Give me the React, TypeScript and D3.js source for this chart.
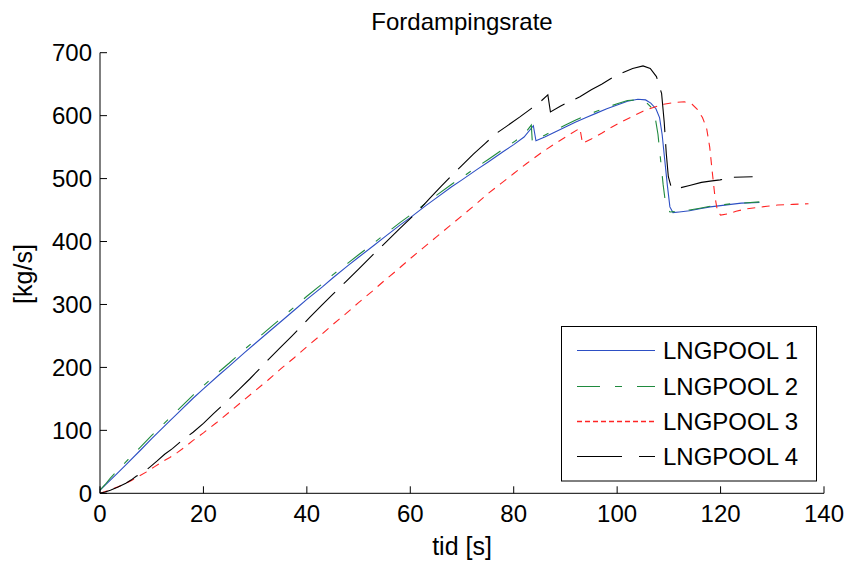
import React, { useEffect, useRef } from 'react';
import * as d3 from 'd3';

// LNGPOOL 1 (blue, solid) : [tid s, kg/s]
const pool1 = [
  [0, 5], [1, 13], [2, 21], [3, 29], [5, 45], [8, 70], [10, 87], [13, 111], [15, 127], [18, 151],
  [20, 166], [23, 188], [25, 202], [28, 224], [30, 238], [33, 259], [35, 273], [38, 294], [40, 308],
  [43, 328], [45, 342], [48, 362], [50, 375], [53, 394], [55, 407], [58, 426], [60, 438], [63, 457],
  [65, 469], [68, 487], [70, 498], [73, 515], [75, 526], [78, 543], [80, 554], [82, 566], [83.8, 584],
  [84.3, 560], [86, 566], [88, 574], [90, 582], [92, 590], [94, 597], [96, 604], [98, 611], [100, 617],
  [102, 623], [104, 626], [105.5, 625], [106.5, 620], [107.5, 611], [108.2, 597], [108.7, 570],
  [109.2, 530], [109.7, 490], [110.2, 455], [110.8, 446], [112, 447], [114, 449], [116, 452], [118, 455],
  [120, 457], [122, 459], [124, 461], [127.5, 462]
];

// LNGPOOL 2 (green, dash-dot)
const pool2 = [
  [0, 5], [1, 14], [2, 24], [3, 33], [5, 50], [8, 75], [10, 92], [13, 116], [15, 132], [18, 156],
  [20, 171], [23, 193], [25, 207], [28, 229], [30, 243], [33, 264], [35, 278], [38, 299], [40, 313],
  [43, 333], [45, 347], [48, 366], [50, 379], [53, 398], [55, 411], [58, 430], [60, 442], [63, 461],
  [65, 473], [68, 491], [70, 502], [73, 519], [75, 530], [78, 547], [80, 558], [82, 570], [83.4, 585],
  [83.6, 558], [86, 569], [88, 577], [90, 585], [92, 593], [94, 600], [96, 607], [98, 613], [100, 619],
  [102, 624], [104, 625], [105.5, 622], [106.5, 614], [107.3, 600], [107.9, 570], [108.4, 530],
  [108.9, 490], [109.4, 458], [110.2, 447], [112, 448], [114, 450], [116, 453], [118, 456], [120, 458],
  [122, 460], [124, 461], [127.5, 463]
];

// LNGPOOL 3 (red, dashed)
const pool3 = [
  [0, 0], [1.5, 4], [3, 9], [4.5, 14], [6, 20], [7.5, 27], [9, 34], [10.5, 42], [12, 50], [13.5, 57],
  [15, 65], [16.5, 74], [18, 84], [20, 96], [22.5, 112], [25, 129], [27.5, 146], [30, 163], [32.5, 180],
  [35, 198], [37.5, 215], [40, 233], [42.5, 250], [45, 268], [47.5, 285], [50, 303], [52.5, 320],
  [55, 338], [57.5, 355], [60, 373], [62.5, 390], [65, 407], [67.5, 424], [70, 441], [72.5, 458],
  [75, 476], [77.5, 492], [80, 508], [82.5, 524], [85, 539], [87.5, 553], [90, 566], [92.8, 580],
  [93.3, 556], [95, 563], [97, 572], [99, 582], [101, 591], [103, 599], [105, 607], [107, 613],
  [109, 618], [111, 621], [113, 622], [114.5, 618], [115.5, 610], [116.5, 597], [117.3, 580],
  [117.9, 550], [118.4, 510], [118.9, 472], [119.4, 448], [120, 442], [121.5, 444], [123, 448],
  [125, 452], [127, 454], [129, 456], [131, 458], [134, 459], [137, 460]
];

// LNGPOOL 4 (black, long dash)
const pool4 = [
  [0, 0], [1, 2], [2, 5], [3.5, 10], [5, 16], [6, 21], [7, 27], [8.5, 34], [9.7, 42], [11, 51],
  [12.5, 62], [14, 71], [16, 85], [18, 97], [20, 111], [22, 127], [24.5, 146], [27, 166], [29, 182],
  [31, 199], [32.5, 212], [34.8, 231], [37, 249], [39, 266], [40.6, 280], [42.9, 299], [45, 316],
  [47.5, 336], [50, 356], [52.9, 380], [55.4, 400], [58, 421], [61.2, 446], [63.8, 469], [66, 488],
  [68, 505], [70, 521], [72.2, 539], [74.5, 556], [76.5, 571], [78.6, 583], [81.2, 598], [83.5, 612],
  [85, 621], [86.6, 633], [87.1, 606], [89, 615], [91, 623], [92.8, 630], [95, 641], [97, 650],
  [99, 660], [101, 668], [103, 675], [105, 679], [106.4, 675], [107.6, 662], [108.6, 635], [109.1, 590],
  [109.5, 540], [109.9, 503], [110.5, 485], [112, 485], [114, 489], [116.3, 494], [118, 496],
  [119.9, 498], [122.5, 502], [126.2, 503]
];

const seriesNames = ['LNGPOOL 1', 'LNGPOOL 2', 'LNGPOOL 3', 'LNGPOOL 4'];
const xTicks = [0, 20, 40, 60, 80, 100, 120, 140];
const yTicks = [0, 100, 200, 300, 400, 500, 600, 700];

const styles = [
  { color: '#2d4fc4', dash: null, legendDash: null, legendWidth: 1.2 },
  { color: '#1f8a3e', dash: '22 14 6 14', legendDash: '23 15 7 15', legendWidth: 1.2 },
  { color: '#ff2424', dash: '8 6.5', legendDash: '5 3', legendWidth: 1.6 },
  { color: '#000000', dash: '42 12', legendDash: '45 17', legendWidth: 1.2 }
];

const font = '"Liberation Sans", Arial, Helvetica, sans-serif';

function App() {
  const ref = useRef(null);

  useEffect(() => {
    const width = 848;
    const height = 561;
    const svg = d3.select(ref.current);
    svg.selectAll('*').remove();

    const x = d3.scaleLinear().domain([0, 140]).range([100, 824]);
    const y = d3.scaleLinear().domain([0, 700]).range([493.3, 52.7]);

    svg.append('rect').attr('width', width).attr('height', height).attr('fill', '#fff');

    // title and axis labels
    svg.append('text')
      .attr('x', 462).attr('y', 30)
      .attr('text-anchor', 'middle')
      .style('font-family', font).style('font-size', '24px')
      .text('Fordampingsrate');

    svg.append('text')
      .attr('x', 462).attr('y', 555)
      .attr('text-anchor', 'middle')
      .style('font-family', font).style('font-size', '25px')
      .text('tid [s]');

    svg.append('text')
      .attr('transform', 'translate(32,274) rotate(-90)')
      .attr('text-anchor', 'middle')
      .style('font-family', font).style('font-size', '25px')
      .text('[kg/s]');

    // series
    const line = d3.line().x(d => x(d[0])).y(d => y(d[1]));
    [pool1, pool2, pool3, pool4].forEach((data, i) => {
      svg.append('path')
        .attr('d', line(data))
        .attr('fill', 'none')
        .attr('stroke', styles[i].color)
        .attr('stroke-width', 1.1)
        .attr('stroke-dasharray', styles[i].dash);
    });

    // axes (box off, ticks inward)
    const axes = svg.append('g').attr('stroke', '#000').attr('stroke-width', 1);
    axes.append('line').attr('x1', 100).attr('x2', 100).attr('y1', y(700)).attr('y2', y(0));
    axes.append('line').attr('x1', 100).attr('x2', 824).attr('y1', y(0)).attr('y2', y(0));
    xTicks.forEach(t => {
      axes.append('line').attr('x1', x(t)).attr('x2', x(t)).attr('y1', y(0)).attr('y2', y(0) - 7);
    });
    yTicks.forEach(t => {
      axes.append('line').attr('x1', 100).attr('x2', 107).attr('y1', y(t)).attr('y2', y(t));
    });

    svg.append('g').selectAll('text')
      .data(xTicks).enter().append('text')
      .attr('x', d => x(d)).attr('y', 522)
      .attr('text-anchor', 'middle')
      .style('font-family', font).style('font-size', '24px')
      .text(d => d);

    svg.append('g').selectAll('text')
      .data(yTicks).enter().append('text')
      .attr('x', 92).attr('y', d => y(d))
      .attr('dy', '0.35em')
      .attr('text-anchor', 'end')
      .style('font-family', font).style('font-size', '24px')
      .text(d => d);

    // legend
    const legend = svg.append('g');
    legend.append('rect')
      .attr('x', 561.5).attr('y', 326.5).attr('width', 255).attr('height', 154.5)
      .attr('fill', '#fff').attr('stroke', '#000').attr('stroke-width', 1);
    const rowY = [350.5, 386.5, 421.5, 456.5];
    seriesNames.forEach((name, i) => {
      legend.append('line')
        .attr('x1', 577).attr('x2', 655).attr('y1', rowY[i]).attr('y2', rowY[i])
        .attr('stroke', styles[i].color).attr('stroke-width', styles[i].legendWidth)
        .attr('stroke-dasharray', styles[i].legendDash);
      legend.append('text')
        .attr('x', 663).attr('y', rowY[i]).attr('dy', '0.35em')
        .style('font-family', font).style('font-size', '24px')
        .text(name);
    });
  }, []);

  return (
    <svg ref={ref} width={848} height={561}
      style={{ position: 'absolute', left: 0, top: 0, display: 'block' }} />
  );
}

export default App;
